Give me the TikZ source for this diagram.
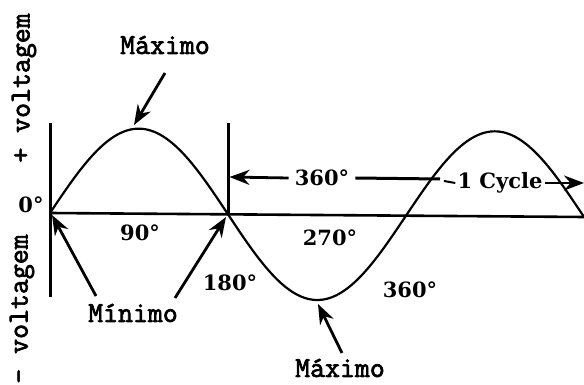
\documentclass[tikz,border=0pt]{standalone}
\usepackage{fontspec}
\setmainfont{DejaVu Serif}
\newfontfamily\monob{Latin Modern Mono}[FakeBold=2.5]
\usetikzlibrary{arrows.meta}
\tikzset{
  mono/.style={font=\monob\fontsize{29}{32}\selectfont, inner sep=0pt},
  deg/.style={font=\bfseries\fontsize{21}{24}\selectfont, inner sep=0pt},
  arr/.style={line width=2.8pt, -{Stealth[length=20pt,width=15pt]}},
  wave/.style={line width=2.2pt},
  bar/.style={line width=3pt},
}
\begin{document}
\begin{tikzpicture}[x=1pt,y=-1pt]
\useasboundingbox (0,0) rectangle (584,385);
% axis and verticals
\coordinate (o) at (50,213);
\coordinate (e) at (584,217);
\draw[line width=2.6pt] (o) -- (e);
\coordinate (v1t) at (50,123);
\coordinate (v1b) at (50,297);
\draw[bar] (v1t) -- (v1b);
\coordinate (v2t) at (228,123);
\coordinate (v2b) at (228,214);
\draw[bar] (v2t) -- (v2b);
% sine wave
\draw[wave] plot[domain=50:584, samples=240, smooth] (\x, {213 + (\x-50)*4/534 - 85*sin((\x-50)/356*360)});
% labels
\node[mono] (max1) at (165,45) {Máximo};
\node[mono] (min) at (133,313) {Mínimo};
\node[mono] (max2) at (340,368) {Máximo};
\node[mono, rotate=90] (vp) at (24,88) {+ voltagem};
\node[mono, rotate=90] (vm) at (22,309) {– voltagem};
\node[deg] (d0) at (31,205) {0°};
\node[deg] (d90) at (140,233) {90°};
\node[deg] (d180) at (230,283) {180°};
\node[deg] (d270) at (330,238) {270°};
\node[deg] (d360a) at (322,178) {360°};
\node[deg] (d360b) at (410,290) {360°};
\node[deg] (cyc) at (500,183) {1 Cycle};
% arrows
\coordinate (p1) at (134,125);
\coordinate (t1) at (165,73);
\draw[arr] (t1) -- (p1);
\coordinate (p2) at (52,215);
\coordinate (t2) at (96,296);
\draw[arr] (t2) -- (p2);
\coordinate (p3) at (226,217);
\coordinate (t3) at (175,298);
\draw[arr] (t3) -- (p3);
\coordinate (p4) at (318,304);
\coordinate (t4) at (342,353);
\draw[arr] (t4) -- (p4);
\coordinate (p5) at (229.5,177);
\draw[arr] ([xshift=-6pt]d360a.west) -- (p5);
\draw[line width=3pt] ([xshift=6pt]d360a.east) -- (440,179);
\draw[line width=2pt] (444,181) -- ([xshift=-2pt]cyc.west);
\coordinate (p6) at (584,183);
\draw[arr] ([xshift=2pt]cyc.east) -- (p6);
\end{tikzpicture}
\end{document}
